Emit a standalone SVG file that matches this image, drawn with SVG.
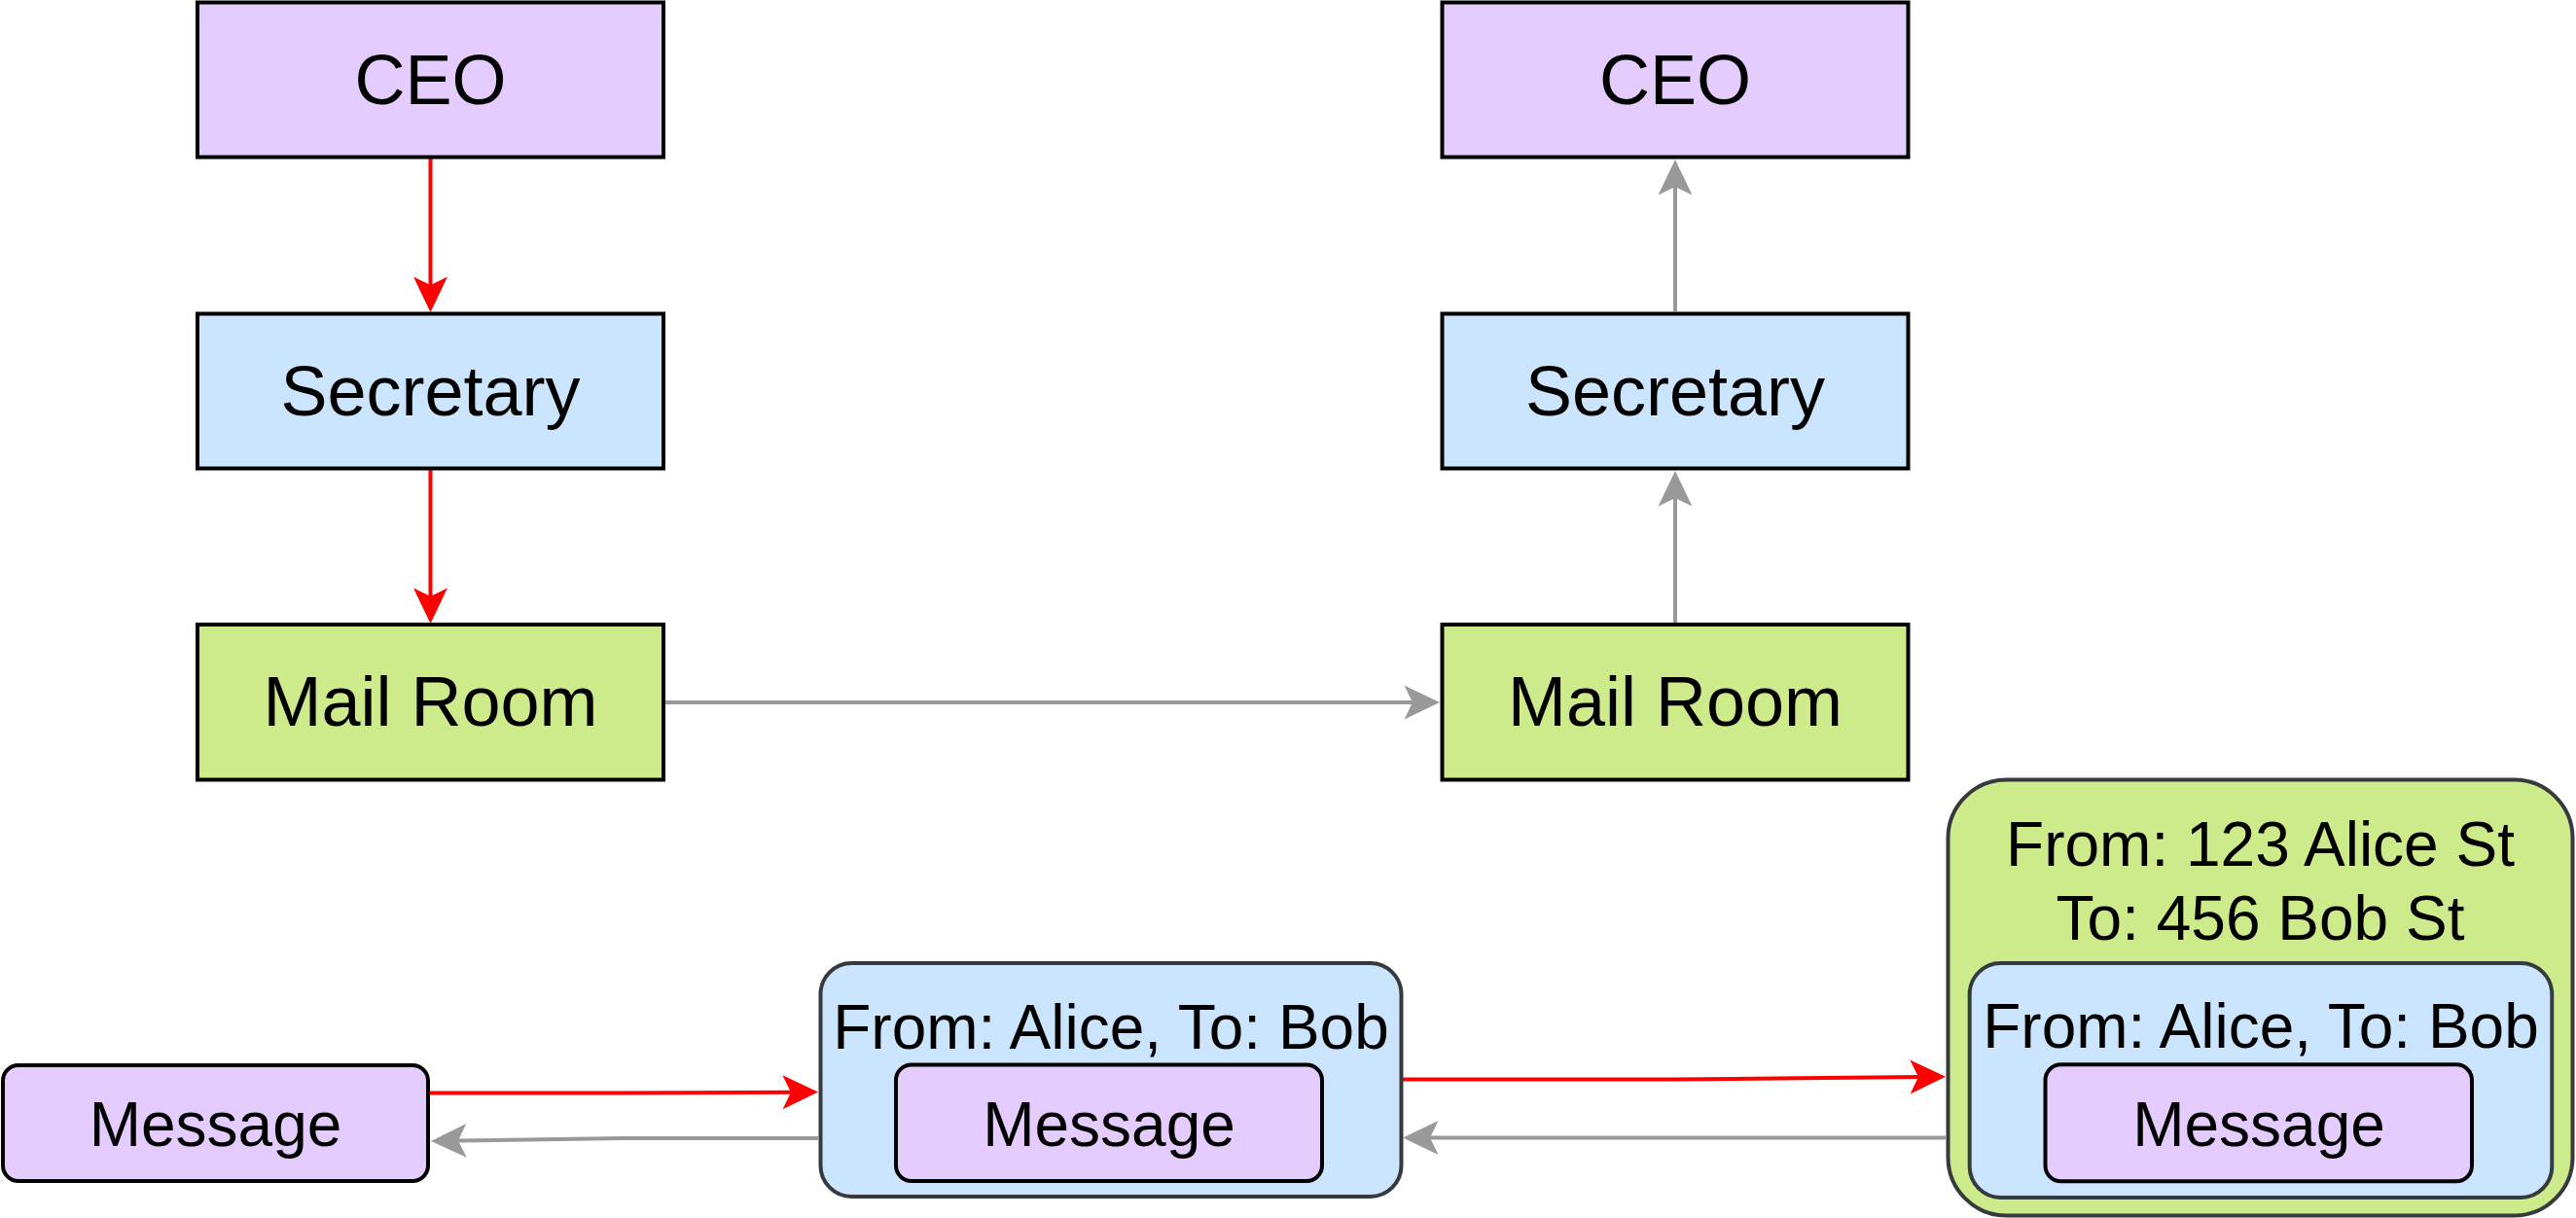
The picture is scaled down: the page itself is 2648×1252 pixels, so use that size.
<svg xmlns="http://www.w3.org/2000/svg" width="2648" height="1252" viewBox="0 0 2648 1252">
<style>
text{font-family:"Liberation Sans",Arial,sans-serif;fill:#000;text-anchor:middle}
.big{font-size:72px}
.sm{font-size:64px}
.box{stroke:#000;stroke-width:4}
.cont{stroke:#36393d;stroke-width:4}
.msg{fill:#e5ccff;stroke:#000;stroke-width:4}
.purple{fill:#e5ccff}
.blue{fill:#cce5ff}
.green{fill:#cdeb8b}
.red{fill:none;stroke:#ff0000;stroke-width:4}
.gray{fill:none;stroke:#999999;stroke-width:4}
</style>
<defs>
<marker id="ar" viewBox="-37 -18 38 36" refX="-28" refY="0" markerWidth="38" markerHeight="36" markerUnits="userSpaceOnUse" orient="auto">
<path d="M0,0 L-36.5,-17.5 L-28,0 L-36.5,17.5 Z" fill="#ff0000"/>
</marker>
<marker id="ag" viewBox="-37 -18 38 36" refX="-28" refY="0" markerWidth="38" markerHeight="36" markerUnits="userSpaceOnUse" orient="auto">
<path d="M0,0 L-36.5,-17.5 L-28,0 L-36.5,17.5 Z" fill="#999999"/>
</marker>
</defs>
<rect width="2648" height="1252" fill="#ffffff"/>
<g id="connectors">
<path class="red" d="M442.5,163 L442.5,293" marker-end="url(#ar)"/>
<path class="red" d="M442.5,483 L442.5,613" marker-end="url(#ar)"/>
<path class="gray" d="M683,722 L1452,722" marker-end="url(#ag)"/>
<path class="gray" d="M1722,640 L1722,512" marker-end="url(#ag)"/>
<path class="gray" d="M1722,320 L1722,192" marker-end="url(#ag)"/>
<path class="red" d="M442,1123.5 L640,1123.5 L813,1122.7" marker-end="url(#ar)"/>
<path class="gray" d="M841,1170 L640,1170 L471,1172.5" marker-end="url(#ag)"/>
<path class="red" d="M1442,1109.5 L1723,1109.5 L1972,1107" marker-end="url(#ar)"/>
<path class="gray" d="M2000,1169.5 L1470,1169.5" marker-end="url(#ag)"/>
</g>
<g id="ceo-left">
<rect class="box purple" x="203" y="2.5" width="479" height="159"/>
<text class="big" x="442.5" y="107">CEO</text>
</g>
<g id="secretary-left">
<rect class="box blue" x="203" y="322.5" width="479" height="159"/>
<text class="big" x="442.5" y="427">Secretary</text>
</g>
<g id="mailroom-left">
<rect class="box green" x="203" y="642" width="479" height="159.5"/>
<text class="big" x="442.5" y="746">Mail Room</text>
</g>
<g id="ceo-right">
<rect class="box purple" x="1482.5" y="2.5" width="479" height="159"/>
<text class="big" x="1722" y="107">CEO</text>
</g>
<g id="secretary-right">
<rect class="box blue" x="1482.5" y="322.5" width="479" height="159"/>
<text class="big" x="1722" y="427">Secretary</text>
</g>
<g id="mailroom-right">
<rect class="box green" x="1482.5" y="642" width="479" height="159.5"/>
<text class="big" x="1722" y="746">Mail Room</text>
</g>
<g id="message-1">
<rect class="msg" x="3" y="1095" width="437" height="119" rx="16" ry="16"/>
<text class="sm" x="221.5" y="1178">Message</text>
</g>
<g id="envelope-1">
<rect class="cont blue" x="843.5" y="990" width="597" height="240" rx="32" ry="32"/>
<text class="sm" x="1142" y="1078">From: Alice, To: Bob</text>
<g id="message-2">
<rect class="msg" x="921" y="1094.5" width="438" height="119.5" rx="16" ry="16"/>
<text class="sm" x="1140" y="1178">Message</text>
</g>
</g>
<g id="package">
<rect class="cont green" x="2002.5" y="801.5" width="642" height="448" rx="60" ry="60"/>
<text class="sm" x="2323.5" y="890">From: 123 Alice St</text>
<text class="sm" x="2323.5" y="966">To: 456 Bob St</text>
<g id="envelope-2">
<rect class="cont blue" x="2024.7" y="990" width="598.6" height="241" rx="32" ry="32"/>
<text class="sm" x="2324" y="1077">From: Alice, To: Bob</text>
<g id="message-3">
<rect class="msg" x="2102.5" y="1094.3" width="438.5" height="120" rx="16" ry="16"/>
<text class="sm" x="2322" y="1178">Message</text>
</g>
</g>
</g>
</svg>
